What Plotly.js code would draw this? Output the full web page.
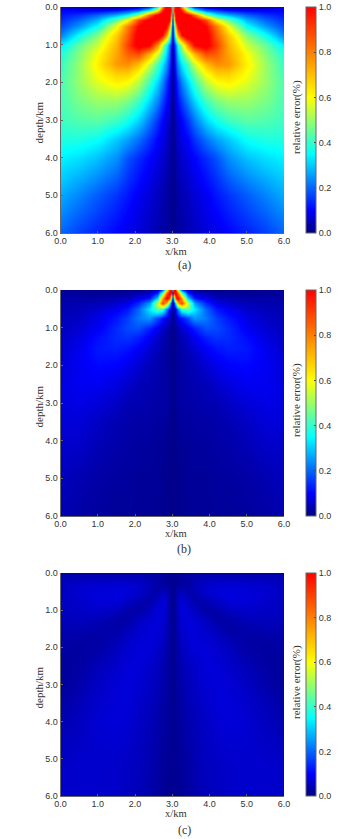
<!DOCTYPE html>
<html><head><meta charset="utf-8">
<script src="https://cdn.plot.ly/plotly-3.0.1.min.js"></script>
<style>html,body{margin:0;padding:0;background:#fff}#c{width:361px;height:839px}</style>
</head><body><div id="c"></div>
<script>
// Half-width readings (x = 0 .. 3 km); each panel is left/right symmetric about x = 3 km.
const xHalf = [0,.5,1,1.5,1.8,2.1,2.4,2.6,2.75,2.85,2.92,2.97,3];
const depths = [0,.08,.2,.35,.5,.75,1,1.25,1.5,1.75,2,2.5,3,3.5,4,5,6];
const errorA = [
[.08,.05,.03,.03,.04,.07,.15,.35,.8,1.1,1.1,.8,.3],
[.1,.09,.09,.11,.15,.2,.35,.6,.95,1.1,1.1,.9,.4],
[.12,.15,.2,.28,.35,.5,.85,1.05,1.1,1.1,1.1,.7,.15],
[.14,.2,.28,.45,.6,.9,1.05,1.1,1.1,1.1,1,.45,.03],
[.17,.25,.36,.58,.8,1,1.1,1.1,1.1,1.02,.75,.3,.02],
[.22,.36,.48,.68,.85,1.05,1.1,1.1,.98,.75,.5,.2,.02],
[.33,.45,.55,.72,.9,1.05,1,.78,.52,.36,.22,.1,.02],
[.38,.48,.6,.74,.85,.88,.72,.55,.42,.3,.18,.07,.02],
[.4,.5,.62,.76,.78,.7,.55,.42,.33,.24,.15,.06,.02],
[.41,.5,.6,.68,.68,.6,.47,.37,.28,.2,.12,.05,.02],
[.42,.5,.57,.62,.6,.53,.41,.31,.23,.15,.09,.04,.01],
[.42,.47,.5,.5,.47,.41,.31,.23,.16,.11,.07,.03,.01],
[.41,.43,.44,.41,.37,.31,.22,.15,.1,.07,.05,.02,.01],
[.38,.38,.36,.3,.26,.21,.15,.1,.08,.06,.04,.02,.01],
[.34,.32,.29,.24,.18,.14,.1,.08,.06,.05,.03,.02,.01],
[.27,.23,.19,.15,.12,.09,.07,.05,.04,.03,.02,.015,.01],
[.2,.16,.13,.1,.08,.07,.05,.04,.03,.025,.02,.015,.01]];
const errorB = [
[.02,.015,.01,.01,.01,.015,.03,.06,.2,.6,.95,1.05,.3],
[.025,.02,.02,.02,.025,.04,.05,.14,.45,.85,1.05,.95,.1],
[.03,.03,.03,.04,.05,.08,.12,.3,.75,1.05,.9,.35,.02],
[.035,.04,.045,.06,.08,.14,.25,.55,.9,.7,.35,.1,.01],
[.04,.045,.06,.09,.12,.2,.33,.45,.4,.22,.1,.04,.01],
[.045,.055,.08,.12,.16,.22,.25,.17,.12,.08,.05,.02,.01],
[.05,.065,.09,.14,.17,.18,.13,.09,.06,.04,.03,.015,.01],
[.055,.075,.11,.14,.15,.13,.09,.06,.04,.03,.02,.01,.01],
[.06,.085,.12,.13,.12,.1,.07,.05,.035,.03,.02,.012,.01],
[.065,.09,.115,.115,.1,.08,.055,.04,.03,.025,.02,.012,.01],
[.07,.09,.105,.1,.085,.065,.045,.04,.03,.025,.02,.012,.01],
[.075,.09,.09,.075,.06,.045,.04,.035,.03,.03,.02,.012,.01],
[.075,.08,.07,.055,.04,.04,.035,.03,.03,.03,.02,.012,.01],
[.07,.07,.055,.04,.035,.03,.03,.025,.025,.02,.015,.01,.01],
[.06,.06,.045,.035,.03,.025,.025,.02,.02,.015,.012,.01,.01],
[.05,.04,.03,.025,.025,.02,.02,.02,.015,.012,.01,.01,.01],
[.04,.03,.025,.02,.02,.02,.02,.015,.015,.012,.01,.01,.01]];
const errorC = [
[.03,.03,.03,.03,.03,.03,.03,.03,.025,.02,.015,.015,.015],
[.04,.04,.04,.04,.04,.04,.035,.03,.025,.02,.015,.015,.015],
[.045,.05,.055,.055,.055,.05,.04,.03,.025,.02,.015,.015,.015],
[.05,.06,.065,.068,.065,.06,.045,.03,.03,.025,.018,.015,.015],
[.05,.065,.07,.075,.07,.06,.04,.035,.05,.045,.025,.015,.015],
[.05,.06,.07,.07,.055,.04,.035,.055,.07,.055,.03,.015,.015],
[.05,.055,.06,.05,.035,.03,.05,.07,.07,.055,.03,.015,.015],
[.045,.05,.045,.035,.03,.05,.065,.07,.065,.05,.03,.015,.015],
[.04,.04,.035,.03,.045,.06,.07,.07,.06,.045,.03,.015,.015],
[.035,.03,.03,.04,.055,.065,.07,.065,.055,.04,.025,.015,.015],
[.03,.025,.03,.05,.062,.07,.07,.06,.05,.035,.025,.015,.015],
[.022,.028,.045,.06,.07,.07,.06,.05,.04,.03,.022,.015,.015],
[.022,.035,.055,.068,.07,.065,.055,.045,.035,.028,.02,.015,.015],
[.03,.045,.06,.07,.07,.06,.05,.04,.03,.025,.02,.015,.015],
[.04,.05,.065,.07,.065,.055,.045,.035,.028,.022,.018,.015,.015],
[.055,.06,.06,.06,.055,.05,.04,.03,.022,.02,.016,.015,.015],
[.06,.06,.06,.058,.05,.045,.035,.025,.02,.018,.015,.015,.015]];
const axisTicks = [0,1,2,3,4,5,6];
const axisLabels = ['0.0','1.0','2.0','3.0','4.0','5.0','6.0'];
const barTicks = [0,.2,.4,.6,.8,1];
const barLabels = ['0.0','0.2','0.4','0.6','0.8','1.0'];
const captions = ['(a)','(b)','(c)'];

const W = 361, H = 839;
const scale = [[0,'#00007f'],[.1,'#0000ff'],[.35,'#00ffff'],[.6,'#ffff00'],[1,'#ff0000']];
const panels = [
 {z:errorA,top:7,bot:233,xTitle:251,yTitle:123,barTitle:117,capY:265},
 {z:errorB,top:290,bot:516,xTitle:533,yTitle:407,barTitle:400,capY:549},
 {z:errorC,top:573,bot:796,xTitle:813,yTitle:688,barTitle:682,capY:830}];
const mirror = r => r.concat(r.slice(0,-1).reverse());
const xFull = xHalf.concat(xHalf.slice(0,-1).reverse().map(v => 6 - v));
const serif = 'Liberation Serif, Times New Roman, serif';
const sans = 'Liberation Sans, Arial, sans-serif';
const tickCol = '#333', lineCol = '#666';

const layout = {width:W,height:H,margin:{l:0,r:0,t:0,b:0},paper_bgcolor:'#fff',plot_bgcolor:'#fff',showlegend:false,annotations:[]};
function label(text,px,py,size,angle){
  layout.annotations.push({xref:'paper',yref:'paper',x:px/W,y:1-py/H,xanchor:'center',yanchor:'middle',text:text,textangle:angle||0,showarrow:false,
    font:{family:serif,size:size,color:tickCol}});
}
const traces = panels.map((p,i) => {
  const s = i ? String(i+1) : '';
  const dom = [1 - p.bot/H, 1 - p.top/H];
  const common = {range:[0,6],tickvals:axisTicks,ticktext:axisLabels,ticks:'inside',ticklen:2,tickcolor:lineCol,showgrid:false,zeroline:false,
    showline:true,linecolor:lineCol,linewidth:1,tickfont:{family:sans,size:9,color:tickCol}};
  layout['xaxis'+s] = Object.assign({},common,{domain:[60.5/W,284/W],anchor:'y'+s,ticklabelstandoff:-1});
  layout['yaxis'+s] = Object.assign({},common,{domain:dom,range:[6,0],anchor:'x'+s});
  label('x/km',176,p.xTitle,10.5);
  label('depth/km',38.5,p.yTitle,11,-90);
  label('relative error(%)',296,p.barTitle,11,-90);
  label(captions[i],184,p.capY,12);
  return {type:'heatmap',x:xFull,y:depths,z:p.z.map(mirror),xaxis:'x'+s,yaxis:'y'+s,zmin:0,zmax:1,zsmooth:'best',colorscale:scale,hoverinfo:'skip',
    colorbar:{x:306/W,xanchor:'left',xpad:0,ypad:0,thickness:10,thicknessmode:'pixels',y:(dom[0]+dom[1])/2,yanchor:'middle',len:dom[1]-dom[0],lenmode:'fraction',
      tickvals:barTicks,ticktext:barLabels,ticks:'inside',ticklen:2,tickcolor:'#444',outlinecolor:lineCol,outlinewidth:1,tickfont:{family:sans,size:9,color:tickCol}}};
});
Plotly.newPlot('c',traces,layout,{staticPlot:true,displayModeBar:false});
</script></body></html>
